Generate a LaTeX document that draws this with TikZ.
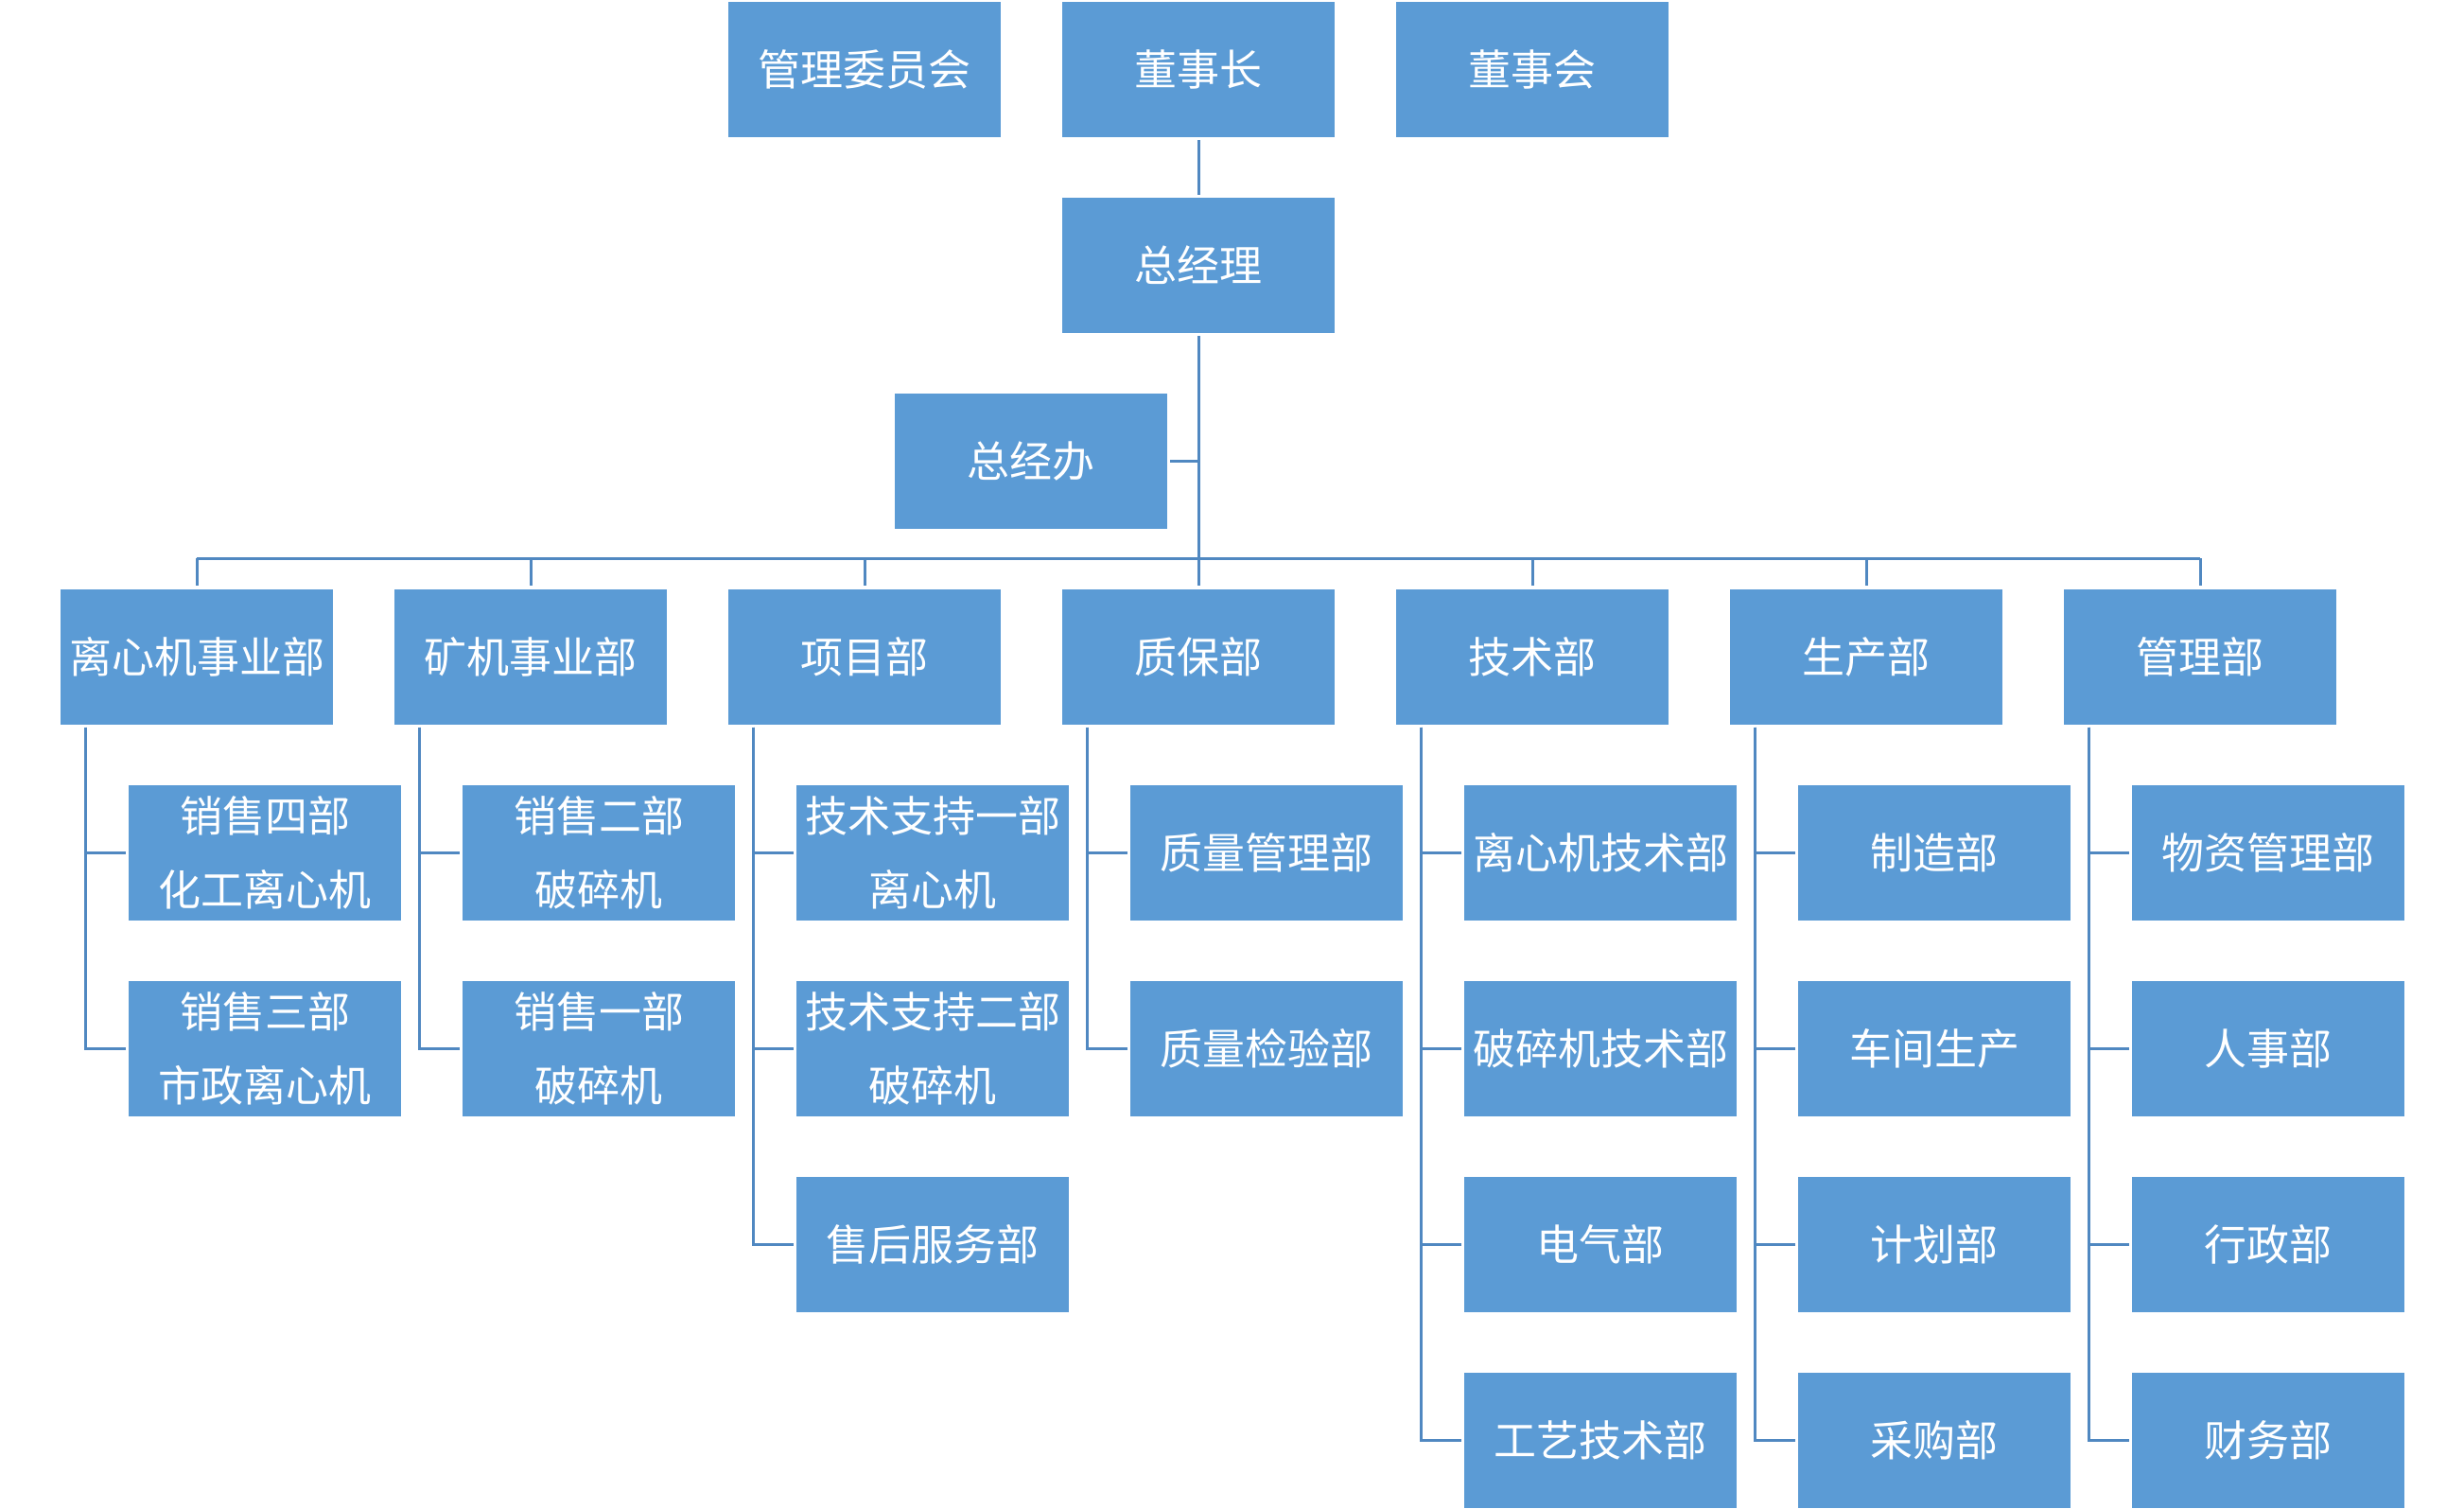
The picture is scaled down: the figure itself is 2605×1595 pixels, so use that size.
\documentclass[tikz,border=0pt]{standalone}
\usepackage{fontspec}
\newfontfamily\cjk{Noto Sans CJK SC}
\definecolor{boxblue}{HTML}{5B9BD5}
\definecolor{lineblue}{HTML}{5088C1}
\tikzset{
  dept/.style={fill=boxblue, text=white, minimum width=288pt, minimum height=143pt,
    inner sep=0pt, align=center, font={\cjk\fontsize{45pt}{78pt}\selectfont}},
  link/.style={lineblue, line width=3pt, shorten <=3pt, shorten >=3pt},
}
\begin{document}
\begin{tikzpicture}[x=1pt,y=-1pt]
        \useasboundingbox (0,0) rectangle (2605,1595);
        %\draw[step=100pt,gray,very thin] (0,0) grid (2605,1595);

        % top row
        \node[dept] (glwyh) at (914,73.5) {管理委员会};
        \node[dept] (dsz)   at (1267,73.5) {董事长};
        \node[dept] (dsh)   at (1620,73.5) {董事会};
        \node[dept] (zjl)   at (1267,280.5) {总经理};
        \node[dept] (zjb)   at (1090,487.5) {总经办};

        % departments
        \node[dept] (lxj) at (208,694) {离心机事业部};
        \node[dept] (kj)  at (561,694) {矿机事业部};
        \node[dept] (xm)  at (914,694) {项目部};
        \node[dept] (zb)  at (1267,694) {质保部};
        \node[dept] (js)  at (1620,694) {技术部};
        \node[dept] (sc)  at (1973,694) {生产部};
        \node[dept] (gl)  at (2326,694) {管理部};

        % sub departments
        \node[dept] (lxj1) at (280,901.5)  {销售四部\\化工离心机};
        \node[dept] (lxj2) at (280,1108.5) {销售三部\\市政离心机};
        \node[dept] (kj1)  at (633,901.5)  {销售二部\\破碎机};
        \node[dept] (kj2)  at (633,1108.5) {销售一部\\破碎机};
        \node[dept] (xm1)  at (986,901.5)  {技术支持一部\\离心机};
        \node[dept] (xm2)  at (986,1108.5) {技术支持二部\\破碎机};
        \node[dept] (xm3)  at (986,1315.5) {售后服务部};
        \node[dept] (zb1)  at (1339,901.5)  {质量管理部};
        \node[dept] (zb2)  at (1339,1108.5) {质量检验部};
        \node[dept] (js1)  at (1692,901.5)  {离心机技术部};
        \node[dept] (js2)  at (1692,1108.5) {破碎机技术部};
        \node[dept] (js3)  at (1692,1315.5) {电气部};
        \node[dept] (js4)  at (1692,1522.5) {工艺技术部};
        \node[dept] (sc1)  at (2045,901.5)  {制造部};
        \node[dept] (sc2)  at (2045,1108.5) {车间生产};
        \node[dept] (sc3)  at (2045,1315.5) {计划部};
        \node[dept] (sc4)  at (2045,1522.5) {采购部};
        \node[dept] (gl1)  at (2398,901.5)  {物资管理部};
        \node[dept] (gl2)  at (2398,1108.5) {人事部};
        \node[dept] (gl3)  at (2398,1315.5) {行政部};
        \node[dept] (gl4)  at (2398,1522.5) {财务部};

        % spine and bus
        \coordinate (bus) at (1267,590);
        \draw[link] (dsz) -- (zjl);
        \draw[link] (zjl) -- (zb);
        \draw[link, shorten >=0pt] (zjb.east) -- (zjb.east -| zjl.south);
        \draw[lineblue, line width=3pt] (lxj.north |- bus) -- (gl.north |- bus);
        \draw[link, shorten <=0pt] (lxj.north |- bus) -- (lxj.north);
        \draw[link, shorten <=0pt] (kj.north |- bus) -- (kj.north);
        \draw[link, shorten <=0pt] (xm.north |- bus) -- (xm.north);
        \draw[link, shorten <=0pt] (js.north |- bus) -- (js.north);
        \draw[link, shorten <=0pt] (sc.north |- bus) -- (sc.north);
        \draw[link, shorten <=0pt] (gl.north |- bus) -- (gl.north);

        % sub department links
        \draw[link] ([xshift=27pt]lxj.south west) |- (lxj1.west);
        \draw[link] ([xshift=27pt]lxj.south west) |- (lxj2.west);
        \draw[link] ([xshift=27pt]kj.south west) |- (kj1.west);
        \draw[link] ([xshift=27pt]kj.south west) |- (kj2.west);
        \draw[link] ([xshift=27pt]xm.south west) |- (xm1.west);
        \draw[link] ([xshift=27pt]xm.south west) |- (xm2.west);
        \draw[link] ([xshift=27pt]xm.south west) |- (xm3.west);
        \draw[link] ([xshift=27pt]zb.south west) |- (zb1.west);
        \draw[link] ([xshift=27pt]zb.south west) |- (zb2.west);
        \draw[link] ([xshift=27pt]js.south west) |- (js1.west);
        \draw[link] ([xshift=27pt]js.south west) |- (js2.west);
        \draw[link] ([xshift=27pt]js.south west) |- (js3.west);
        \draw[link] ([xshift=27pt]js.south west) |- (js4.west);
        \draw[link] ([xshift=27pt]sc.south west) |- (sc1.west);
        \draw[link] ([xshift=27pt]sc.south west) |- (sc2.west);
        \draw[link] ([xshift=27pt]sc.south west) |- (sc3.west);
        \draw[link] ([xshift=27pt]sc.south west) |- (sc4.west);
        \draw[link] ([xshift=27pt]gl.south west) |- (gl1.west);
        \draw[link] ([xshift=27pt]gl.south west) |- (gl2.west);
        \draw[link] ([xshift=27pt]gl.south west) |- (gl3.west);
        \draw[link] ([xshift=27pt]gl.south west) |- (gl4.west);
\end{tikzpicture}
\end{document}
